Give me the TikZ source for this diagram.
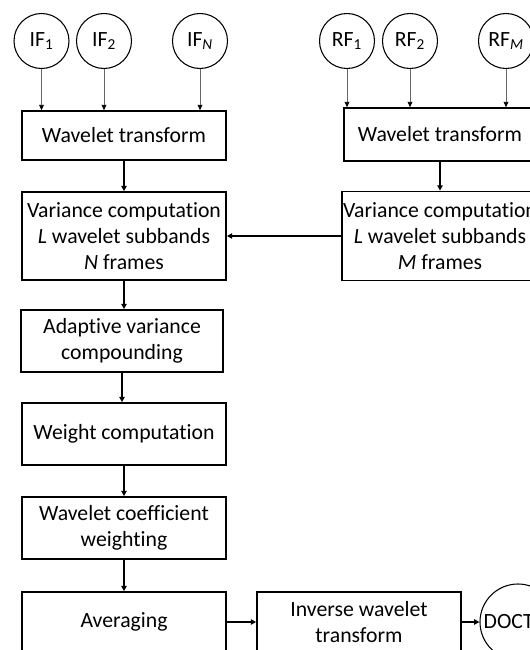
\documentclass[tikz,border=0pt]{standalone}
\usepackage{fontspec}
\setmainfont[Ligatures=NoCommon]{Carlito}
\usetikzlibrary{arrows.meta}
\begin{document}
\begin{tikzpicture}[x=0.75pt,y=-0.75pt,
 txt/.style={font=\fontsize{16.3}{19.5}\selectfont},
 box/.style={txt, draw, line width=1.25pt, rectangle, inner sep=0pt, align=center},
 circ/.style={txt, draw, circle, line width=0.8pt, minimum size=41.25pt, inner sep=0pt},
 thinarr/.style={draw=black!60, line width=0.65pt, -{Triangle[length=4pt,width=3.6pt,fill=black,color=black]}},
 arr/.style={line width=1.25pt, -{Triangle[length=4pt,width=4pt]}}]
\useasboundingbox (0,0) rectangle (530,650);
\clip (0,0) rectangle (530,650);
% input circles
\node[circ] (if1) at (41.5,41) {IF\textsubscript{1}};
\node[circ] (if2) at (104,41) {IF\textsubscript{2}};
\node[circ] (ifn) at (200,41) {IF\textsubscript{\textit{N}}};
\node[circ] (rf1) at (347,41) {RF\textsubscript{1}};
\node[circ] (rf2) at (410,41) {RF\textsubscript{2}};
\node[circ] (rfm) at (506,41) {RF\textsubscript{\textit{M}}};
% left column
\node[box, minimum width=153pt, minimum height=36.75pt] (wt1) at (124,135.5) {Wavelet transform};
\node[box, minimum width=153pt, minimum height=66pt] (var1) at (124,236) {Variance computation\\\textit{L} wavelet subbands\\\textit{N} frames};
\node[box, minimum width=151.5pt, minimum height=46.5pt] (adapt) at (122,341) {Adaptive variance\\compounding};
\node[box, minimum width=153pt, minimum height=46.5pt] (weight) at (124,434) {Weight computation};
\node[box, minimum width=153pt, minimum height=46.5pt] (wcw) at (124,528) {Wavelet coefficient\\weighting};
\node[box, minimum width=153pt, minimum height=45pt] (avg) at (124,622) {Averaging};
\node[box, minimum width=153pt, minimum height=45pt] (inv) at (359,622) {Inverse wavelet\\transform};
\node[circ, minimum size=57pt] (doct) at (518,622) {DOCT\hspace*{14pt}};
% right column
\node[box, minimum width=144pt, minimum height=39.75pt] (wt2) at (440,134.5) {Wavelet transform};
\node[box, minimum width=147pt, minimum height=66.75pt] (var2) at (440,236) {Variance computation\\\textit{L} wavelet subbands\\\textit{M} frames};
% connectors
\foreach \c in {if1,if2,ifn} \draw[thinarr] (\c) -- (\c |- wt1.north);
\foreach \c in {rf1,rf2,rfm} \draw[thinarr] (\c) -- (\c |- wt2.north);
\draw[arr] (wt1) -- (var1);
\draw[arr] (var1) -- (var1 |- adapt.north);
\draw[arr] (adapt) -- (adapt |- weight.north);
\draw[arr] (weight) -- (wcw);
\draw[arr] (wcw) -- (avg);
\draw[arr] (wt2) -- (var2);
\draw[arr] (var2.west) -- (var2.west -| var1.east);
\draw[arr] (avg.east) -- (avg.east -| inv.west);
\draw[arr] (inv.east) -- (inv.east -| doct.west);
\end{tikzpicture}
\end{document}
